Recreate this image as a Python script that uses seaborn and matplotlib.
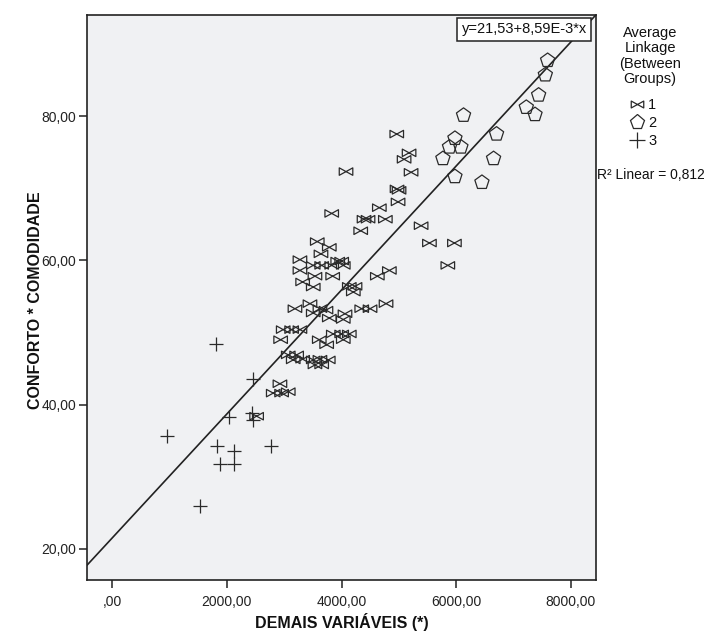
import numpy as np
import pandas as pd
import matplotlib
matplotlib.use("Agg")
import matplotlib.pyplot as plt
from matplotlib.path import Path
from matplotlib.lines import Line2D
import seaborn as sns

# ---------------- data ----------------
g1_x = [4964, 5179, 5092, 5214, 4969, 5004, 4987, 4079, 4660, 4393, 4463, 4765, 3829, 4335,
        5389, 5534, 5970, 5855, 4835, 4777, 3577, 3787, 3642, 3275, 3507, 3654, 3829, 3934,
        4003, 4031, 3275, 3537, 3846, 3322, 3507, 4136, 4236, 4206, 4625, 3450, 3188, 3507,
        3624, 3729, 3787, 4061, 4031, 4353, 4498, 2983, 3130, 3275, 2938, 3612, 3741, 3857,
        4003, 4136, 4031, 3071, 3217, 3158, 3322, 3507, 3624, 3769, 3537, 3654, 2926, 2809,
        2955, 3071, 2519]
g1_y = [77.5, 74.9, 74.0, 72.2, 69.9, 69.7, 68.1, 72.3, 67.3, 65.7, 65.7, 65.7, 66.5, 64.1,
        64.8, 62.4, 62.4, 59.3, 58.6, 54.0, 62.6, 61.8, 60.9, 60.1, 59.3, 59.3, 59.3, 59.9,
        59.9, 59.3, 58.6, 57.8, 57.8, 57.0, 56.3, 56.4, 56.4, 55.6, 57.8, 54.0, 53.3, 52.7,
        53.3, 53.1, 52.0, 52.6, 51.8, 53.3, 53.3, 50.4, 50.4, 50.4, 49.0, 49.0, 48.3, 49.8,
        49.8, 49.8, 49.0, 46.9, 46.9, 46.2, 46.3, 46.2, 46.3, 46.2, 45.5, 45.5, 42.9, 41.6,
        41.6, 41.8, 38.4]

g2_x = [7596, 7556, 7439, 7224, 7376, 6129, 5979, 5884, 6083, 6705, 5769, 6653, 5979, 6450]
g2_y = [87.7, 85.7, 82.9, 81.2, 80.2, 80.1, 76.9, 75.7, 75.7, 77.5, 74.1, 74.1, 71.6, 70.8]

g3_x = [947, 1803, 2460, 2040, 2432, 2449, 1831, 2123, 2774, 1878, 2123, 1529]
g3_y = [35.7, 48.4, 43.5, 38.3, 38.8, 37.9, 34.3, 33.6, 34.3, 31.8, 31.8, 26.0]

group_labels = ["1", "2", "3"]
intercept = 21.53
slope = 8.59e-3
r2_text = "R\u00b2 Linear = 0,812"
eq_text = "y=21,53+8,59E-3*x"

x_ticks = [0, 2000, 4000, 6000, 8000]
x_tick_labels = [",00", "2000,00", "4000,00", "6000,00", "8000,00"]
y_ticks = [20, 40, 60, 80]
y_tick_labels = ["20,00", "40,00", "60,00", "80,00"]

x_label = "DEMAIS VARIÁVEIS (*)"
y_label = "CONFORTO * COMODIDADE"
legend_title = "Average\nLinkage\n(Between\nGroups)"

df = pd.DataFrame({
    "x": g1_x + g2_x + g3_x,
    "y": g1_y + g2_y + g3_y,
    "grupo": ["1"] * len(g1_x) + ["2"] * len(g2_x) + ["3"] * len(g3_x),
})

# ---------------- style ----------------
sns.set_theme(style="ticks")
plt.rcParams["font.family"] = ["Liberation Sans", "DejaVu Sans"]

# bowtie marker
bow_verts = [(-1, -0.55), (-1, 0.55), (0, 0), (-1, -0.55),
             (1, -0.55), (1, 0.55), (0, 0), (1, -0.55)]
bow_codes = [Path.MOVETO, Path.LINETO, Path.LINETO, Path.CLOSEPOLY,
             Path.MOVETO, Path.LINETO, Path.LINETO, Path.CLOSEPOLY]
bowtie = Path(bow_verts, bow_codes)

fig = plt.figure(figsize=(7.04, 6.34), dpi=100)
ax = fig.add_axes([87 / 704, 1 - 580 / 634, 509 / 704, 565 / 634])
ax.set_facecolor("#F0F1F3")

ec = "#2a2a2a"
sns.scatterplot(data=df[df.grupo == "1"], x="x", y="y", marker=bowtie, s=95,
                facecolors="none", edgecolor=ec, linewidth=0.9, ax=ax, legend=False, zorder=3)
sns.scatterplot(data=df[df.grupo == "2"], x="x", y="y", marker="p", s=115,
                facecolors="none", edgecolor=ec, linewidth=0.9, ax=ax, legend=False, zorder=3)
sns.scatterplot(data=df[df.grupo == "3"], x="x", y="y", marker="+", s=115,
                color=ec, linewidth=0.9, ax=ax, legend=False, zorder=3)

ax.axline((0, intercept), slope=slope, color="#222222", lw=1.2, zorder=2)

ax.set_xlim(-440, 8440)
ax.set_ylim(15.7, 94.0)
ax.set_xticks(x_ticks)
ax.set_xticklabels(x_tick_labels)
ax.set_yticks(y_ticks)
ax.set_yticklabels(y_tick_labels)
ax.tick_params(axis="both", direction="out", length=6, width=1.1, color="#222222",
               labelsize=10, labelcolor="#222222", pad=2)
ax.tick_params(axis="x", pad=5)
for sp in ax.spines.values():
    sp.set_visible(True)
    sp.set_color("#222222")
    sp.set_linewidth(1.2)

ax.set_xlabel(x_label, fontsize=11.5, fontweight="bold", color="#111111")
ax.set_ylabel(y_label, fontsize=11.5, fontweight="bold", color="#111111")
ax.xaxis.set_label_coords(0.5, -0.058)
ax.yaxis.set_label_coords(-0.086, 0.496)

ax.text(0.859, 0.975, eq_text, transform=ax.transAxes, ha="center", va="center",
        fontsize=10.5, color="#111111",
        bbox=dict(boxstyle="square,pad=0.3", fc="white", ec="#222222", lw=1.1), zorder=5)

# legend title (separate so the gap to the entries matches)
fig.text(650 / 704, 1 - 26 / 634, legend_title, ha="center", va="top",
         multialignment="center", fontsize=10.5, linespacing=1.12, color="#111111")

handles = [
    Line2D([], [], linestyle="none", marker=bowtie, markersize=9, markerfacecolor="none",
           markeredgecolor=ec, markeredgewidth=0.9),
    Line2D([], [], linestyle="none", marker="p", markersize=11, markerfacecolor="none",
           markeredgecolor=ec, markeredgewidth=0.9),
    Line2D([], [], linestyle="none", marker="+", markersize=11, color=ec, markeredgewidth=0.9),
]
leg = fig.legend(handles, group_labels, loc="upper left",
                 bbox_to_anchor=(630 / 704, 1 - 98 / 634), frameon=False,
                 fontsize=10.5, handlelength=1.0, handletextpad=0.25,
                 labelspacing=0.28, borderpad=0.0, borderaxespad=0.0)
for t in leg.get_texts():
    t.set_color("#111111")

fig.text(597 / 704, 1 - 175 / 634, r2_text, ha="left", va="center", fontsize=10,
         color="#111111")

fig.savefig("out.png", dpi=100, facecolor="white")
